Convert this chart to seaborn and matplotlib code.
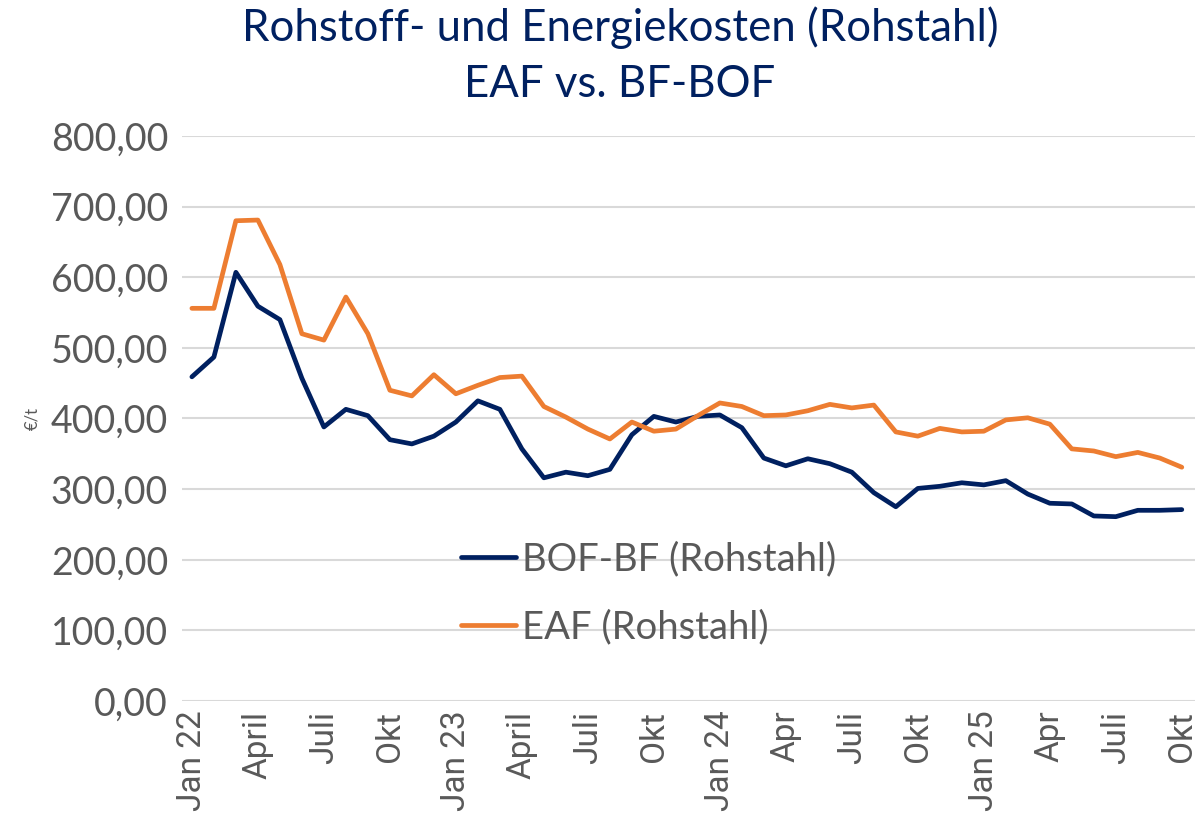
import numpy as np
import pandas as pd
import matplotlib
matplotlib.use("Agg")
import matplotlib.pyplot as plt
import seaborn as sns

bof_bf = [459, 487, 607, 559, 540, 457, 388, 413, 404, 370, 364, 375, 395, 425, 413, 357,
          316, 324, 319, 328, 377, 403, 395, 403, 405, 387, 344, 333, 343, 336, 324, 295,
          275, 301, 304, 309, 306, 312, 293, 280, 279, 262, 261, 270, 270, 271]
eaf = [556, 556, 680, 681, 618, 520, 511, 572, 520, 440, 432, 462, 435, 447, 458, 460,
       417, 402, 385, 371, 395, 382, 385, 404, 422, 417, 404, 405, 411, 420, 415, 419,
       381, 375, 386, 381, 382, 398, 401, 392, 357, 354, 346, 352, 344, 331]
tick_labels = ["Jan 22", "April", "Juli", "Okt", "Jan 23", "April", "Juli", "Okt",
               "Jan 24", "Apr", "Juli", "Okt", "Jan 25", "Apr", "Juli", "Okt"]
series_names = ["BOF-BF (Rohstahl)", "EAF (Rohstahl)"]
y_ticks = [0, 100, 200, 300, 400, 500, 600, 700, 800]

n = len(bof_bf)
df = pd.DataFrame({
    "month": list(range(n)) * 2,
    "value": bof_bf + eaf,
    "series": [series_names[0]] * n + [series_names[1]] * n,
})

sns.set_style("white")
plt.rcParams["font.family"] = ["Lato", "DejaVu Sans"]

fig = plt.figure(figsize=(11.97, 8.22), dpi=100)
ax = fig.add_axes([182 / 1197, 1 - 701 / 822, (1195 - 182) / 1197, (701 - 136) / 822])

palette = {series_names[0]: "#002060", series_names[1]: "#ED7D31"}
sns.lineplot(data=df, x="month", y="value", hue="series", palette=palette,
             linewidth=3.4, ax=ax, legend=True)

ax.set_xlim(-0.45, 45.6)
ax.set_ylim(0, 800)
ax.set_yticks(y_ticks)
ax.set_yticklabels([f"{v:,.2f}".replace(".", ",") for v in y_ticks],
                   fontsize=27, color="#595959")
ax.set_xticks(list(range(0, n, 3)))
ax.set_xticklabels(tick_labels, rotation=90, fontsize=24, color="#595959",
                   family=["Roboto", "DejaVu Sans"])
ax.tick_params(axis="both", length=0)
ax.tick_params(axis="y", pad=10)
ax.tick_params(axis="x", pad=7)
ax.grid(axis="y", color="#D9D9D9", linewidth=1.5)
ax.set_axisbelow(True)
for s in ax.spines.values():
    s.set_visible(False)
ax.set_xlabel("")
ax.set_ylabel("€/t", fontsize=12, color="#595959")
ax.yaxis.set_label_coords(-0.14, 0.5)

leg = ax.legend(loc="upper left", bbox_to_anchor=(0.26, 0.31), frameon=False,
                fontsize=27.5, labelcolor="#595959", handlelength=1.45,
                handletextpad=0.15, labelspacing=0.85, borderaxespad=0)
for h in leg.get_lines():
    h.set_linewidth(3.4)

fig.text(0.518, 0.992, "Rohstoff- und Energiekosten (Rohstahl)\nEAF vs. BF-BOF",
         ha="center", va="top", fontsize=31.5, color="#002060", linespacing=1.45)

fig.savefig("out.png", dpi=100)
